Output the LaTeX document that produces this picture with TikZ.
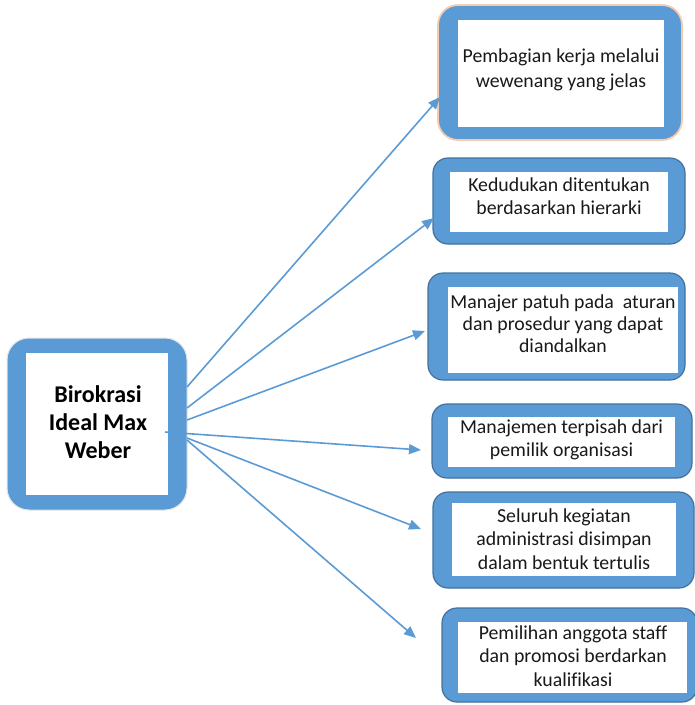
\documentclass[tikz,border=0pt]{standalone}
\usepackage{fontspec}
\setmainfont[Ligatures=CommonOff]{Carlito}
\usetikzlibrary{arrows.meta}
\definecolor{boxblue}{HTML}{5B9BD5}
\definecolor{boxline}{HTML}{41719C}
\definecolor{peach}{HTML}{F8CBAD}
\definecolor{shadowgray}{HTML}{E4E4E4}
\tikzset{
  outerbox/.style={rectangle, rounded corners=15pt, fill=boxblue, draw=boxline, line width=1.2pt, inner sep=0pt},
  innerbox/.style={rectangle, fill=white, inner sep=0pt},
  label/.style={align=center, inner sep=0pt, font=\fontsize{19.8}{23.5}\selectfont, text=black!90},
  biglabel/.style={align=center, inner sep=0pt, font=\fontsize{24}{28}\selectfont\bfseries, text=black},
  conn/.style={draw=boxblue, line width=1.6pt, -{Triangle[length=12pt,width=10pt]}}
}
\begin{document}
\begin{tikzpicture}[x=1pt,y=-1pt]
\useasboundingbox (0,0) rectangle (695,705);
% central box
\node[outerbox, draw=shadowgray, line width=1pt, rounded corners=22pt, minimum width=180pt, minimum height=172pt] (c) at (97,424) {};
\node[innerbox, minimum width=142pt, minimum height=142pt] (ci) at (97,424) {};
\node[biglabel] (ct) at (98,422) {Birokrasi\\Ideal Max\\Weber};
% box 1
\node[outerbox, draw=peach, line width=1.8pt, rounded corners=20pt, minimum width=244pt, minimum height=135pt] (b1) at (560,72.5) {};
\node[innerbox, minimum width=206pt, minimum height=107pt] (b1i) at (561,73.5) {};
\node[label, font=\fontsize{19.8}{25}\selectfont] (b1t) at (561,70) {Pembagian kerja melalui\\wewenang yang jelas};
% box 2
\node[outerbox, minimum width=252pt, minimum height=86pt] (b2) at (559,201) {};
\node[innerbox, minimum width=218pt, minimum height=60pt] (b2i) at (559,202) {};
\node[label] (b2t) at (559,196) {Kedudukan ditentukan\\berdasarkan hierarki};
% box 3
\node[outerbox, minimum width=257pt, minimum height=107pt] (b3) at (556.5,326.5) {};
\node[innerbox, minimum width=230pt, minimum height=86pt] (b3i) at (563,330) {};
\node[label, font=\fontsize{19.8}{22}\selectfont] (b3t) at (563,324) {Manajer patuh pada~ aturan\\dan prosedur yang dapat\\diandalkan};
% box 4
\node[outerbox, minimum width=260pt, minimum height=74pt] (b4) at (562,441) {};
\node[innerbox, minimum width=227pt, minimum height=50pt] (b4i) at (561.5,442) {};
\node[label] (b4t) at (561.5,440) {Manajemen terpisah dari\\pemilik organisasi};
% box 5
\node[outerbox, minimum width=261pt, minimum height=96pt] (b5) at (563.5,540) {};
\node[innerbox, minimum width=224pt, minimum height=73pt] (b5i) at (564,539.5) {};
\node[label] (b5t) at (564,539) {Seluruh kegiatan\\administrasi disimpan\\dalam bentuk tertulis};
% box 6
\node[outerbox, minimum width=255pt, minimum height=94pt] (b6) at (569.5,655) {};
\node[innerbox, minimum width=229pt, minimum height=71pt] (b6i) at (572.5,657.5) {};
\node[label] (b6t) at (573,656) {Pemilihan anggota staff\\dan promosi berdarkan\\kualifikasi};
% connector end points
\coordinate (s1) at (187,387);
\coordinate (s2) at (187,408);
\coordinate (s3) at (187,420);
\coordinate (s4) at (165,432);
\coordinate (s5) at (187,438);
\coordinate (s6) at (187,440);
\coordinate (e1) at (440,97);
\coordinate (e2) at (434,218);
\coordinate (e3) at (425,331);
\coordinate (e4) at (421,450);
\coordinate (e5) at (421,529);
\coordinate (e6) at (416,638);
\draw[conn] (s1) -- (e1);
\draw[conn] (s2) -- (e2);
\draw[conn] (s3) -- (e3);
\draw[conn] (s4) -- (e4);
\draw[conn] (s5) -- (e5);
\draw[conn] (s6) -- (e6);
\end{tikzpicture}
\end{document}
